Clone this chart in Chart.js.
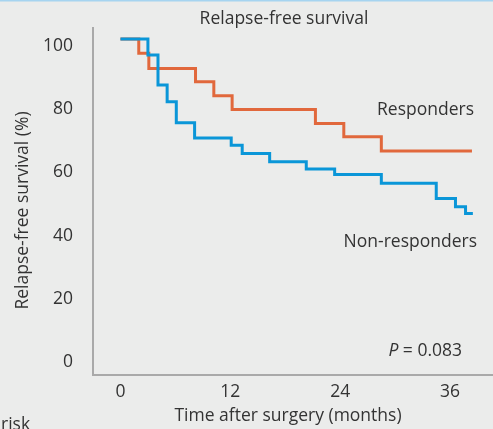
<!DOCTYPE html>
<html>
<head>
<meta charset="utf-8">
<script src="https://cdn.jsdelivr.net/npm/chart.js@4.4.1/dist/chart.umd.min.js"></script>
<style>
  body { margin: 0; background: #ebeceb; }
  canvas { display: block; }
</style>
</head>
<body>
<canvas id="kmChart" width="493" height="429"></canvas>
<script>
// axis ticks
const xTicks = [0, 12, 24, 36];
const yTicks = [0, 20, 40, 60, 80, 100];

// Kaplan-Meier steps (month of drop, survival % after drop)
const nonRespMonths = [0, 3.0, 4.1, 5.1, 6.1, 8.1, 12.1, 13.3, 16.3, 20.3, 23.4, 28.5, 34.5, 36.6, 37.7, 38.5];
const nonRespSurvival = [100, 95, 85.5, 80.2, 73.6, 68.8, 66.5, 63.9, 61.3, 59, 57.3, 54.5, 49.7, 47.1, 45, 45];

const respMonths = [0, 2.0, 3.1, 8.2, 10.2, 12.2, 21.3, 24.4, 28.5, 38.4];
const respSurvival = [100, 95.5, 90.7, 86.5, 82.1, 77.8, 73.4, 69.2, 64.7, 64.7];

const chartTitle = "Relapse-free survival";
const xTitle = "Time after surgery (months)";
const yTitle = "Relapse-free survival (%)";
const pValue = "0.083";

const FONT = '"Open Sans", sans-serif';
const TEXT = "#333333";

const toPoints = (xs, ys) => xs.map((x, i) => ({ x: x, y: ys[i] }));

// background, title and in-plot labels
const decorations = {
  id: "decorations",
  beforeDraw(chart) {
    const ctx = chart.ctx;
    ctx.save();
    ctx.fillStyle = "#ebeceb";
    ctx.fillRect(0, 0, chart.width, chart.height);
    ctx.fillStyle = "#a6d4f0";
    ctx.fillRect(0, 0, chart.width, 1.5);
    ctx.restore();
  },
  afterDraw(chart) {
    const ctx = chart.ctx;
    ctx.save();
    ctx.fillStyle = TEXT;
    ctx.font = "17.5px " + FONT;
    ctx.textBaseline = "alphabetic";

    ctx.textAlign = "center";
    ctx.fillText(chartTitle, 284, 24);
    ctx.fillText(xTitle, 288, 421);

    ctx.textAlign = "right";
    ctx.fillText("Responders", 474, 115);
    ctx.fillText("Non-responders", 477, 247);

    // P = 0.083 with italic P
    ctx.textAlign = "left";
    const rest = " = " + pValue;
    const wRest = ctx.measureText(rest).width;
    ctx.font = "italic 17.5px " + FONT;
    const wP = ctx.measureText("P").width;
    const startX = 462 - wRest - wP;
    ctx.fillText("P", startX, 356);
    ctx.font = "17.5px " + FONT;
    ctx.fillText(rest, startX + wP, 356);

    ctx.fillText("risk", 1, 430);

    ctx.translate(28, 210.5);
    ctx.rotate(-Math.PI / 2);
    ctx.textAlign = "center";
    ctx.fillText(yTitle, 0, 0);
    ctx.restore();
  }
};

new Chart(document.getElementById("kmChart"), {
  type: "line",
  data: {
    datasets: [
      {
        label: "Non-responders",
        data: toPoints(nonRespMonths, nonRespSurvival),
        borderColor: "#0a96d8",
        borderWidth: 3,
        stepped: "before",
        pointRadius: 0,
        fill: false,
        order: 0
      },
      {
        label: "Responders",
        data: toPoints(respMonths, respSurvival),
        borderColor: "#e1683c",
        borderWidth: 3,
        stepped: "before",
        pointRadius: 0,
        fill: false,
        order: 1
      }
    ]
  },
  options: {
    responsive: false,
    animation: false,
    layout: { padding: { top: 28, right: 0, bottom: 0, left: 0 } },
    plugins: {
      legend: { display: false },
      title: { display: false },
      tooltip: { enabled: false }
    },
    scales: {
      x: {
        type: "linear",
        min: -3,
        max: 40.7,
        afterBuildTicks: (scale) => { scale.ticks = xTicks.map((v) => ({ value: v })); },
        afterFit: (scale) => { scale.height = 54; },
        grid: { display: false },
        border: { display: true, color: "#a9a9a9", width: 2 },
        ticks: {
          color: TEXT,
          font: { family: FONT, size: 17.5 },
          padding: -1,
          maxRotation: 0
        }
      },
      y: {
        type: "linear",
        min: -6,
        max: 103.5,
        afterBuildTicks: (scale) => { scale.ticks = yTicks.map((v) => ({ value: v })); },
        afterFit: (scale) => { scale.width = 93; },
        grid: { display: false },
        border: { display: true, color: "#a9a9a9", width: 2 },
        ticks: {
          color: TEXT,
          font: { family: FONT, size: 17.5 },
          padding: 12,
          labelOffset: 6.5
        }
      }
    }
  },
  plugins: [decorations]
});
</script>
</body>
</html>
